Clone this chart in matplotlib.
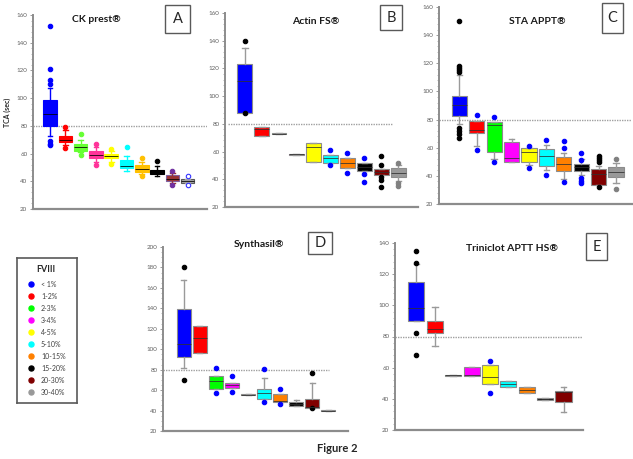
import matplotlib
matplotlib.use('Agg')
import matplotlib.pyplot as plt
from matplotlib.patches import Rectangle
from matplotlib.ticker import MultipleLocator

plt.rcParams['font.family'] = ['Lato', 'DejaVu Sans']

W, H = 633, 459

# ---------------- data ----------------
groups = ['< 1%', '1-2%', '2-3%', '3-4%', '4-5%', '5-10%', '10-15%', '15-20%', '20-30%', '30-40%']
legend_colors = ['#0000ff', '#ff0000', '#00ff00', '#ff00ff', '#ffff00', '#00ffff',
                 '#ff8000', '#000000', '#800000', '#999999']
CUTOFF = 80

titles = ['CK prest®', 'Actin FS®', 'STA APPT®', 'Synthasil®', 'Triniclot APTT HS®']
letters = ['A', 'B', 'C', 'D', 'E']

# Panel A - CK prest
A_q1 = [80, 68.5, 62, 56.5, 56.5, 49.5, 46.5, 45, 40.5, 39]
A_med = [88.5, 70, 64.5, 59, 58, 51, 49, 46.5, 42, 40.5]
A_q3 = [98.5, 72.5, 67, 62, 59.5, 55.5, 51.5, 48, 44.5, 41.7]
A_wlo = [73, 66, 61, 54, 54, 47.5, 45.5, 43.5, 39, 39]
A_whi = [107, 77, 70, 65, 62, 58, 54, 51, 46, 41.7]
A_out = [[152, 121, 113, 110, 69, 67, 66], [79, 64], [74, 59], [67, 52], [63, 52.5],
         [65], [57, 44], [55], [47.5, 37.5], [44, 37.3]]
A_colors = ['#0000ff', '#ff0000', '#66ff33', '#ff3399', '#ffff00', '#00ffff',
            '#ffc000', '#000000', '#993333', '#a6a6a6']
A_flier = ['#0000ff', '#ff0000', '#66ff33', '#ff3399', '#ffff00', '#00ffff',
           '#ffc000', '#000000', '#7030a0', '#3333ff']

# Panel B - Actin FS
B_q1 = [88, 71.5, 72.8, 57.8, 52.5, 51.5, 48, 46.3, 43.1, 41.9]
B_med = [111, 76, 73, 58, 63.5, 55, 52, 49, 45, 44.8]
B_q3 = [123, 78, 73.2, 58.2, 66, 57.6, 55.2, 51.5, 47.2, 48.4]
B_wlo = [88, 71.5, 72.8, 57.8, 52.5, 51.5, 48, 46.3, 43.1, 38.5]
B_whi = [135, 78, 73.2, 58.2, 66, 57.6, 55.2, 51.5, 47.2, 50]
B_out = [[140, 87.5], [], [], [], [], [61, 50], [59, 44.3], [55, 43.8, 38.3],
         [57, 50, 41.3, 39.5, 34.7], [51.5, 37, 35]]
B_flier = ['#000000', '#0000ff', '#0000ff', '#0000ff', '#0000ff', '#0000ff',
           '#0000ff', '#0000ff', '#000000', '#808080']

# Panel C - STA APPT
C_q1 = [82.5, 70.2, 57.2, 49.6, 49.6, 47, 43.4, 43.4, 33.5, 39.4]
C_med = [90.3, 72.6, 76.1, 52.4, 56.7, 54, 48.2, 46, 41.3, 43]
C_q3 = [96.7, 79, 78, 63.8, 60, 58.9, 53.6, 48.2, 45, 46.5]
C_wlo = [77, 61, 52, 49.6, 47.5, 44, 38, 40.5, 33.5, 35]
C_whi = [112, 79, 78, 66, 60, 62, 56, 52, 47, 49]
C_out = [[150, 118, 117, 115, 113.5, 74, 72, 70, 67], [83.5, 58.5], [82, 50], [],
         [61.5, 45.5], [65.5, 40.5], [64.5, 59.5, 35.5], [56.5, 51, 38.5, 36.5, 35],
         [54, 52.5, 51, 49.5, 31.8], [52, 31]]
C_flier = ['#000000', '#0000ff', '#0000ff', '#0000ff', '#0000ff', '#0000ff',
           '#0000ff', '#0000ff', '#000000', '#808080']

# Panel D - Synthasil
D_q1 = [92.4, 96.6, 61.4, 62.3, 55, 51.6, 48, 44.7, 42.2, 39.5]
D_med = [105.4, 110.6, 69.2, 64.9, 55.7, 56.8, 49.3, 46, 43, 40]
D_q3 = [139.3, 123, 73.8, 67.2, 56.5, 60.8, 55.8, 48, 51, 40.5]
D_wlo = [81.9, 96.6, 61.4, 62.3, 55, 51.6, 48, 44.7, 42.2, 39.5]
D_whi = [167.7, 123, 73.8, 67.2, 56.5, 72.2, 55.8, 50.3, 67.2, 40.5]
D_out = [[180, 70], [], [81.5, 57.5], [74, 58.5], [], [80.5, 48.5], [61, 46.5], [],
         [77, 42.2], []]
D_flier = ['#000000', '#0000ff', '#0000ff', '#0000ff', '#0000ff', '#0000ff',
           '#0000ff', '#0000ff', '#000000', '#808080']

# Panel E - Triniclot APTT HS (no 30-40% group)
E_q1 = [90, 82, 54.8, 54.6, 49.5, 47.8, 43.9, 39.3, 37.8]
E_med = [98.1, 84.8, 55, 55, 53.8, 49.5, 45.8, 40, 44.2]
E_q3 = [115.2, 90.1, 55.2, 60.6, 61.7, 51.4, 47.4, 40.7, 45.2]
E_wlo = [90, 73.9, 54.8, 54.6, 49.5, 47.8, 43.9, 39.3, 31.7]
E_whi = [126.5, 99.1, 55.2, 60.6, 61.7, 51.4, 47.4, 40.7, 47.8]
E_out = [[135, 127, 82, 68], [], [], [], [64, 43.5], [], [], [], []]
E_flier = ['#000000', '#0000ff', '#0000ff', '#0000ff', '#0000ff', '#0000ff',
           '#0000ff', '#0000ff', '#000000']

# ---------------- layout (pixels) ----------------
def fig_rect(l, t, r, b):
    return [l / W, 1 - b / H, (r - l) / W, (b - t) / H]

fig = plt.figure(figsize=(W / 100, H / 100), dpi=100)

panels = [
    dict(rect=(33, 15, 207, 209), ylim=(20, 160), step=20, minor=4, xlim=(-0.11, 11.26),
         q1=A_q1, med=A_med, q3=A_q3, wlo=A_wlo, whi=A_whi, out=A_out,
         face=A_colors, flier=A_flier, styleA=True, width=0.88, cut=None,
         title_xy=(96, 19), box=(165, 5, 190, 33)),
    dict(rect=(225, 13, 418, 207), ylim=(20, 160), step=20, minor=4, xlim=(-0.17, 11.16),
         q1=B_q1, med=B_med, q3=B_q3, wlo=B_wlo, whi=B_whi, out=B_out,
         face=legend_colors, flier=B_flier, styleA=False, width=0.88, cut=(0.0, 9.7),
         title_xy=(316, 22), box=(380, 5, 402, 30)),
    dict(rect=(439, 7, 632, 204), ylim=(20, 160), step=20, minor=4, xlim=(-0.17, 10.92),
         q1=C_q1, med=C_med, q3=C_q3, wlo=C_wlo, whi=C_whi, out=C_out,
         face=legend_colors, flier=C_flier, styleA=False, width=0.88, cut=None,
         title_xy=(537, 22), box=(602, 3, 623, 33)),
    dict(rect=(163, 247, 348, 431), ylim=(20, 200), step=20, minor=5, xlim=(-0.3, 11.22),
         q1=D_q1, med=D_med, q3=D_q3, wlo=D_wlo, whi=D_whi, out=D_out,
         face=legend_colors, flier=D_flier, styleA=False, width=0.88, cut=(-0.3, 10.05),
         title_xy=(259, 245), box=(308, 232, 332, 254)),
    dict(rect=(395, 243, 583, 430), ylim=(20, 140), step=20, minor=4, xlim=(-0.16, 10.06),
         q1=E_q1, med=E_med, q3=E_q3, wlo=E_wlo, whi=E_whi, out=E_out,
         face=legend_colors, flier=E_flier, styleA=False, width=0.87, cut=None,
         title_xy=(512, 248), box=(586, 233, 607, 260)),
]

for p, title, letter in zip(panels, titles, letters):
    ax = fig.add_axes(fig_rect(*p['rect']))
    n = len(p['q1'])
    for i in range(n):
        stat = dict(q1=p['q1'][i], med=p['med'][i], q3=p['q3'][i],
                    whislo=p['wlo'][i], whishi=p['whi'][i], fliers=p['out'][i])
        fc = p['face'][i]
        fl = p['flier'][i]
        if p['styleA']:
            edge = fc if i < 8 else ('#7f5fa0' if i == 8 else '#595959')
            wcol = fc
            hollow = (i == 9)
            medc = '#000000'
        else:
            edge = '#8c8c8c'
            wcol = '#9a9a9a'
            hollow = False
            medc = '#303030'
        ax.bxp([stat], positions=[i + 1], widths=p['width'], patch_artist=True,
               manage_ticks=False, capwidths=p['width'] * 0.35,
               boxprops=dict(facecolor=fc, edgecolor=edge, linewidth=0.8),
               whiskerprops=dict(color=wcol, linewidth=1.0),
               capprops=dict(color=wcol, linewidth=1.0),
               medianprops=dict(color=medc, linewidth=0.7, alpha=0.8),
               flierprops=dict(marker='o', markersize=3.2,
                               markerfacecolor='white' if hollow else fl,
                               markeredgecolor=fl, markeredgewidth=0.8,
                               linestyle='none'))
    # cutoff line
    x0, x1 = p['cut'] if p['cut'] else p['xlim']
    ax.hlines(CUTOFF, x0, x1, colors='#a0a0a0', linestyles=(0, (1, 0.8)),
              linewidth=1.0, zorder=0.5)
    ax.set_xlim(*p['xlim'])
    ax.set_ylim(*p['ylim'])
    ax.yaxis.set_major_locator(MultipleLocator(p['step']))
    ax.yaxis.set_minor_locator(MultipleLocator(p['minor']))
    ax.set_xticks([])
    for s in ('top', 'right'):
        ax.spines[s].set_visible(False)
    ax.spines['left'].set_color('#8c8c8c')
    ax.spines['left'].set_linewidth(1.4)
    ax.spines['bottom'].set_color('#8c8c8c')
    ax.spines['bottom'].set_linewidth(1.6)
    ax.tick_params(axis='y', which='major', labelsize=4.5, labelcolor='#606060',
                   color='#8c8c8c', length=2.5, width=0.6, pad=1.5)
    ax.tick_params(axis='y', which='minor', color='#9a9a9a', length=1.5, width=0.5)
    ax.patch.set_alpha(0)

    # title
    tx, ty = p['title_xy']
    fig.text(tx / W, 1 - ty / H, title, ha='center', va='center',
             fontsize=7.5, fontweight='bold', color='#1a1a1a')
    # letter box
    l, t, r, b = p['box']
    fig.add_artist(Rectangle((l / W, 1 - b / H), (r - l) / W, (b - t) / H,
                             transform=fig.transFigure, facecolor='white',
                             edgecolor='#595959', linewidth=1.0))
    fig.text((l + r) / 2 / W, 1 - (t + b) / 2 / H, letter, ha='center', va='center',
             fontsize=10.5, color='#262626')

    if letter == 'A':
        ax.set_ylabel('TCA (sec)', fontsize=5, fontweight='bold', labelpad=4,
                      color='#262626')

# ---------------- legend ----------------
lax = fig.add_axes(fig_rect(17, 258, 77, 403))
lax.set_xlim(0, 60)
lax.set_ylim(145, 0)
lax.set_xticks([])
lax.set_yticks([])
for s in lax.spines.values():
    s.set_color('#595959')
    s.set_linewidth(1.2)
lax.text(29, 12, 'FVIII', ha='center', va='center', fontsize=6.5,
         fontweight='bold', color='#262626')
for i, (g, c) in enumerate(zip(groups, legend_colors)):
    y = 26.3 + 12.0 * i
    lax.plot([13.7], [y], marker='o', markersize=3.6, color=c, linestyle='none')
    lax.text(24, y, g, ha='left', va='center', fontsize=5, color='#404040')

fig.text(337 / W, 1 - 449 / H, 'Figure 2', ha='center', va='center',
         fontsize=8, fontweight='bold', color='#262626')

fig.savefig('out.png', dpi=100)
